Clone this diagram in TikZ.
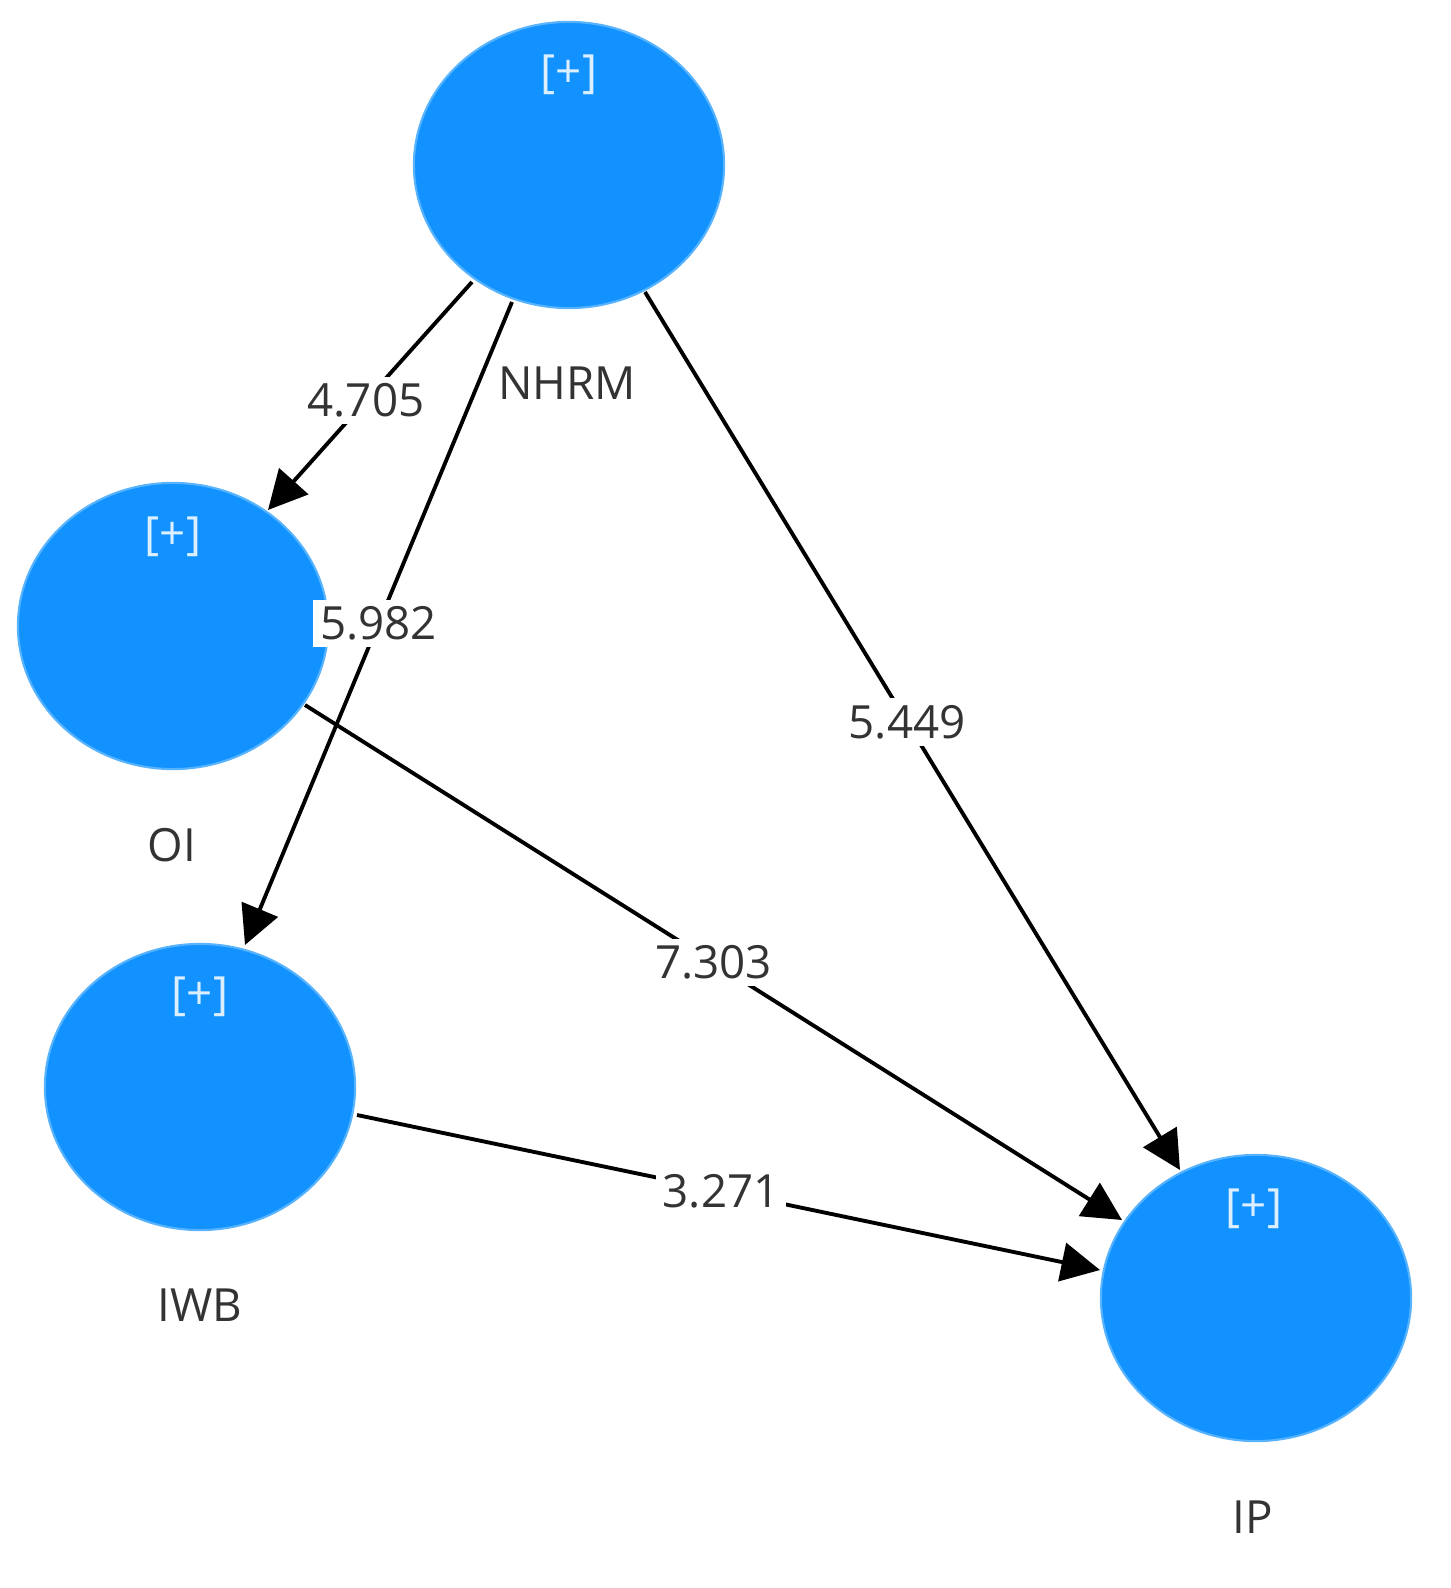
\documentclass[tikz,border=0pt]{standalone}
\usepackage{fontspec}
\setmainfont{Open Sans}
\usetikzlibrary{shapes.geometric,arrows.meta}
\definecolor{lvc}{HTML}{1192FF}
\definecolor{txc}{HTML}{333333}
\begin{document}
\begin{tikzpicture}[x=0.01cm,y=-0.01cm,
  lvar/.style={ellipse,fill=lvc,draw=lvc!70!white,line width=0.6pt,minimum width=3.1cm,minimum height=2.86cm,inner sep=0pt},
  plus/.style={text=white!85!lvc,font=\fontsize{13}{13}\selectfont},
  lbl/.style={text=txc,font=\fontsize{13}{13}\selectfont},
  val/.style={fill=white,text=txc,inner sep=2pt,font=\fontsize{13}{13}\selectfont},
  ed/.style={line width=1.1pt,-{Triangle[length=11pt,width=11pt]}}]
\useasboundingbox (0,0) rectangle (1450,1588);
\node[lvar] (nhrm) at (569,165) {};
\node[lvar] (oi) at (173,626) {};
\node[lvar] (iwb) at (200,1087) {};
\node[lvar] (ip) at (1256,1298) {};
\node[plus] (p1) at (569,75) {[+]};
\node[plus] (p2) at (173,537) {[+]};
\node[plus] (p3) at (200,997) {[+]};
\node[plus] (p4) at (1254,1209) {[+]};
\node[lbl] (l1) at (567,383) {NHRM};
\node[lbl] (l2) at (172,845) {OI};
\node[lbl] (l3) at (200,1305) {IWB};
\node[lbl] (l4) at (1253,1517) {IP};
\coordinate (a1) at (472,282); \coordinate (b1) at (268,510);
\coordinate (a2) at (512,302); \coordinate (b2) at (245,945);
\coordinate (a3) at (645,292); \coordinate (b3) at (1180,1170);
\coordinate (a4) at (305,705); \coordinate (b4) at (1122,1220);
\coordinate (a5) at (357,1115); \coordinate (b5) at (1100,1270);
\draw[ed] (a1) -- node[val,pos=0.52] {4.705} (b1);
\draw[ed] (a2) -- node[val,pos=0.5] {5.982} (b2);
\draw[ed] (a3) -- node[val,pos=0.49] {5.449} (b3);
\draw[ed] (a4) -- node[val,pos=0.5] {7.303} (b4);
\draw[ed] (a5) -- node[val,pos=0.49] {3.271} (b5);
\end{tikzpicture}
\end{document}
